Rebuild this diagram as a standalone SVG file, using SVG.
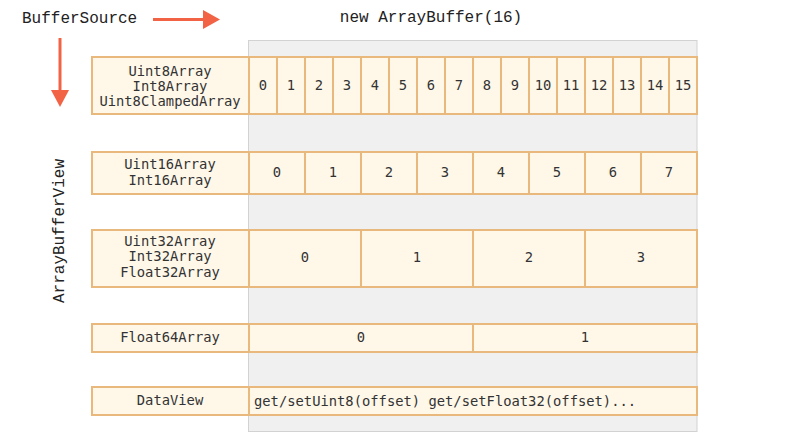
<svg xmlns="http://www.w3.org/2000/svg" width="807" height="447" viewBox="0 0 807 447">
<style>
.cell{fill:#fff8e9;stroke:#e8b87c;stroke-width:2}
.t{font-family:"DejaVu Sans Mono","Liberation Mono",monospace;font-size:13.8px;fill:#333;text-anchor:middle;dominant-baseline:central}
.ts{text-anchor:start}
.h{font-family:"Liberation Mono",monospace;font-size:16px;fill:#222;dominant-baseline:central}
.arr{stroke:#f26245;stroke-width:3;fill:none}
</style>
<rect x="248.5" y="40.5" width="448.5" height="391" fill="#f0f0f0" stroke="#d2d2d2" stroke-width="1"/>
<g id="labels">
<text class="h" x="22" y="19">BufferSource</text>
<text class="h" x="431" y="18" text-anchor="middle">new ArrayBuffer(16)</text>
<text class="h" x="0" y="0" text-anchor="middle" transform="translate(60,231) rotate(-90)">ArrayBufferView</text>
</g>
<g id="connectors">
<line class="arr" x1="153" y1="19.5" x2="204" y2="19.5"/>
<polygon points="203,10 220,19.5 203,29" fill="#f26245"/>
<line class="arr" x1="60" y1="38" x2="60" y2="91"/>
<polygon points="51,90 69,90 60,107" fill="#f26245"/>
</g>
<g id="row-uint8">
<rect class="cell" x="92" y="57" width="157" height="57"/>
<text class="t" x="170" y="71">Uint8Array</text>
<text class="t" x="170" y="86">Int8Array</text>
<text class="t" x="170" y="101">Uint8ClampedArray</text>
<rect class="cell" x="249" y="57" width="28" height="57"/><text class="t" x="263" y="85">0</text>
<rect class="cell" x="277" y="57" width="28" height="57"/><text class="t" x="291" y="85">1</text>
<rect class="cell" x="305" y="57" width="28" height="57"/><text class="t" x="319" y="85">2</text>
<rect class="cell" x="333" y="57" width="28" height="57"/><text class="t" x="347" y="85">3</text>
<rect class="cell" x="361" y="57" width="28" height="57"/><text class="t" x="375" y="85">4</text>
<rect class="cell" x="389" y="57" width="28" height="57"/><text class="t" x="403" y="85">5</text>
<rect class="cell" x="417" y="57" width="28" height="57"/><text class="t" x="431" y="85">6</text>
<rect class="cell" x="445" y="57" width="28" height="57"/><text class="t" x="459" y="85">7</text>
<rect class="cell" x="473" y="57" width="28" height="57"/><text class="t" x="487" y="85">8</text>
<rect class="cell" x="501" y="57" width="28" height="57"/><text class="t" x="515" y="85">9</text>
<rect class="cell" x="529" y="57" width="28" height="57"/><text class="t" x="543" y="85">10</text>
<rect class="cell" x="557" y="57" width="28" height="57"/><text class="t" x="571" y="85">11</text>
<rect class="cell" x="585" y="57" width="28" height="57"/><text class="t" x="599" y="85">12</text>
<rect class="cell" x="613" y="57" width="28" height="57"/><text class="t" x="627" y="85">13</text>
<rect class="cell" x="641" y="57" width="28" height="57"/><text class="t" x="655" y="85">14</text>
<rect class="cell" x="669" y="57" width="28" height="57"/><text class="t" x="683" y="85">15</text>
</g>
<g id="row-uint16">
<rect class="cell" x="92" y="152" width="157" height="42"/>
<text class="t" x="170" y="164">Uint16Array</text>
<text class="t" x="170" y="180">Int16Array</text>
<rect class="cell" x="249" y="152" width="56" height="42"/><text class="t" x="277" y="172">0</text>
<rect class="cell" x="305" y="152" width="56" height="42"/><text class="t" x="333" y="172">1</text>
<rect class="cell" x="361" y="152" width="56" height="42"/><text class="t" x="389" y="172">2</text>
<rect class="cell" x="417" y="152" width="56" height="42"/><text class="t" x="445" y="172">3</text>
<rect class="cell" x="473" y="152" width="56" height="42"/><text class="t" x="501" y="172">4</text>
<rect class="cell" x="529" y="152" width="56" height="42"/><text class="t" x="557" y="172">5</text>
<rect class="cell" x="585" y="152" width="56" height="42"/><text class="t" x="613" y="172">6</text>
<rect class="cell" x="641" y="152" width="56" height="42"/><text class="t" x="669" y="172">7</text>
</g>
<g id="row-uint32">
<rect class="cell" x="92" y="230" width="157" height="57"/>
<text class="t" x="170" y="241">Uint32Array</text>
<text class="t" x="170" y="256">Int32Array</text>
<text class="t" x="170" y="272">Float32Array</text>
<rect class="cell" x="249" y="230" width="112" height="57"/><text class="t" x="305" y="257">0</text>
<rect class="cell" x="361" y="230" width="112" height="57"/><text class="t" x="417" y="257">1</text>
<rect class="cell" x="473" y="230" width="112" height="57"/><text class="t" x="529" y="257">2</text>
<rect class="cell" x="585" y="230" width="112" height="57"/><text class="t" x="641" y="257">3</text>
</g>
<g id="row-float64">
<rect class="cell" x="92" y="324" width="157" height="28"/>
<text class="t" x="170" y="337">Float64Array</text>
<rect class="cell" x="249" y="324" width="224" height="28"/><text class="t" x="361" y="337">0</text>
<rect class="cell" x="473" y="324" width="224" height="28"/><text class="t" x="585" y="337">1</text>
</g>
<g id="row-dataview">
<rect class="cell" x="92" y="387" width="157" height="28"/>
<text class="t" x="170" y="400">DataView</text>
<rect class="cell" x="249" y="387" width="448" height="28"/>
<text class="t ts" x="254" y="401">get/setUint8(offset) get/setFloat32(offset)...</text>
</g>
</svg>
